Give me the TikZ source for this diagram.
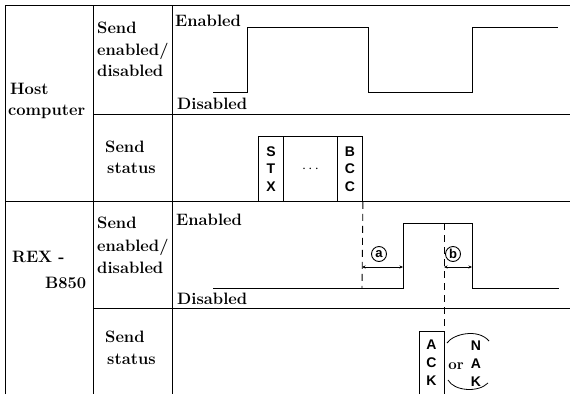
\documentclass[tikz,border=0pt]{standalone}
\usepackage{fontspec}
\newfontfamily\hvb{Liberation Sans}
\usetikzlibrary{arrows.meta}
\begin{document}
\begin{tikzpicture}[x=1pt,y=-1pt,
  lbl/.style={anchor=base west,inner sep=0pt,font=\fontsize{16.5}{20}\selectfont\bfseries},
  gridline/.style={line width=0.9pt},
  sig/.style={line width=1pt},
  frame/.style={draw,line width=0.9pt,inner sep=0pt,minimum width=25pt,minimum height=65pt,align=center,
    font=\hvb\bfseries\fontsize{14}{17.5}\selectfont},
  ltr/.style={inner sep=0pt,font=\hvb\bfseries\fontsize{14}{14}\selectfont},
  dline/.style={line width=0.9pt,dash pattern=on 7pt off 5pt},
  dim/.style={line width=0.8pt,{Stealth[length=3.5pt,width=3pt]}-{Stealth[length=3.5pt,width=3pt]}},
  circ/.style={draw,circle,line width=0.9pt,inner sep=0pt,minimum size=15pt,font=\hvb\bfseries\fontsize{13}{13}\selectfont},
  arcline/.style={line width=0.8pt}]
\useasboundingbox (0,0) rectangle (570,394);
% table lines
\draw[gridline] (5,394) -- (5,5) -- (570,5);
\draw[gridline] (93,5) -- (93,394);
\draw[gridline] (172,5) -- (172,394);
\draw[gridline] (93,114) -- (570,114);
\draw[gridline] (5,201) -- (570,201);
\draw[gridline] (93,308) -- (570,308);
% left labels
\node[lbl] (host1) at (10,94) {Host};
\node[lbl] (host2) at (8,115) {computer};
\node[lbl] (rex1) at (12,262) {REX -};
\node[lbl] (rex2) at (45,288) {B850};
% host row labels
\node[lbl] (hs1) at (97,33) {Send};
\node[lbl] (hs2) at (97,55) {enabled/};
\node[lbl] (hs3) at (97,76) {disabled};
\node[lbl] (hst1) at (105,152) {Send};
\node[lbl] (hst2) at (107,173) {status};
% rex row labels
\node[lbl] (rs1) at (97,228) {Send};
\node[lbl] (rs2) at (97,251) {enabled/};
\node[lbl] (rs3) at (97,273) {disabled};
\node[lbl] (rst1) at (105,342) {Send};
\node[lbl] (rst2) at (107,364) {status};
% level labels
\node[lbl] (hen) at (175,26) {Enabled};
\node[lbl] (hdis) at (177,109) {Disabled};
\node[lbl] (ren) at (176,225) {Enabled};
\node[lbl] (rdis) at (177,304) {Disabled};
% signals
\draw[sig] (213,92) -- (247,92) -- (247,27) -- (368,27) -- (368,92) -- (472,92) -- (472,27) -- (558,27);
\draw[sig] (213,288) -- (403,288) -- (403,223) -- (472,223) -- (472,288) -- (559,288);
% host frame
\node[frame,anchor=north west] (stx) at (258,136) {S\\T\\X};
\node[frame,anchor=north west,minimum width=54pt,font=\fontsize{14}{14}\selectfont] (dots) at (283,136) {$\cdots$};
\node[frame,anchor=north west] (bcc) at (337,136) {B\\C\\C};
% dashed references
\coordinate (d1end) at (362,288);
\draw[dline] (bcc.south east) -- (d1end);
\coordinate (rise) at (403,267);
\coordinate (a0) at (362,267);
\draw[dim] (a0) -- (rise);
\node[circ] (ca) at (379,254) {a};
% ACK box
\coordinate (ackbl) at (419,394);
\coordinate (acktl) at (419,331);
\coordinate (acktr) at (444,331);
\coordinate (ackbr) at (444,394);
\draw[gridline] (ackbl) -- (acktl) -- (acktr) -- (ackbr);
\coordinate (d2top) at (444,223);
\draw[dline] (d2top) -- (acktr);
\coordinate (b0) at (444,267);
\coordinate (fall) at (472,267);
\draw[dim] (b0) -- (fall);
\node[circ] (cb) at (453,254) {b};
\node[ltr] (aA) at (431.5,345) {A};
\node[ltr] (aC) at (431.5,363) {C};
\node[ltr] (aK) at (431.5,381) {K};
\node[inner sep=0pt,font=\fontsize{15}{15}\selectfont\bfseries] (or) at (456,366) {or};
\node[ltr] (nN) at (476,346) {N};
\node[ltr] (nA) at (476,364) {A};
\node[ltr] (nK) at (476,382) {K};
\draw[arcline] (447,343) .. controls (453,334) and (478,328) .. (489,341);
\draw[arcline] (448,380) .. controls (454,391) and (478,393) .. (488,383);
\end{tikzpicture}
\end{document}
